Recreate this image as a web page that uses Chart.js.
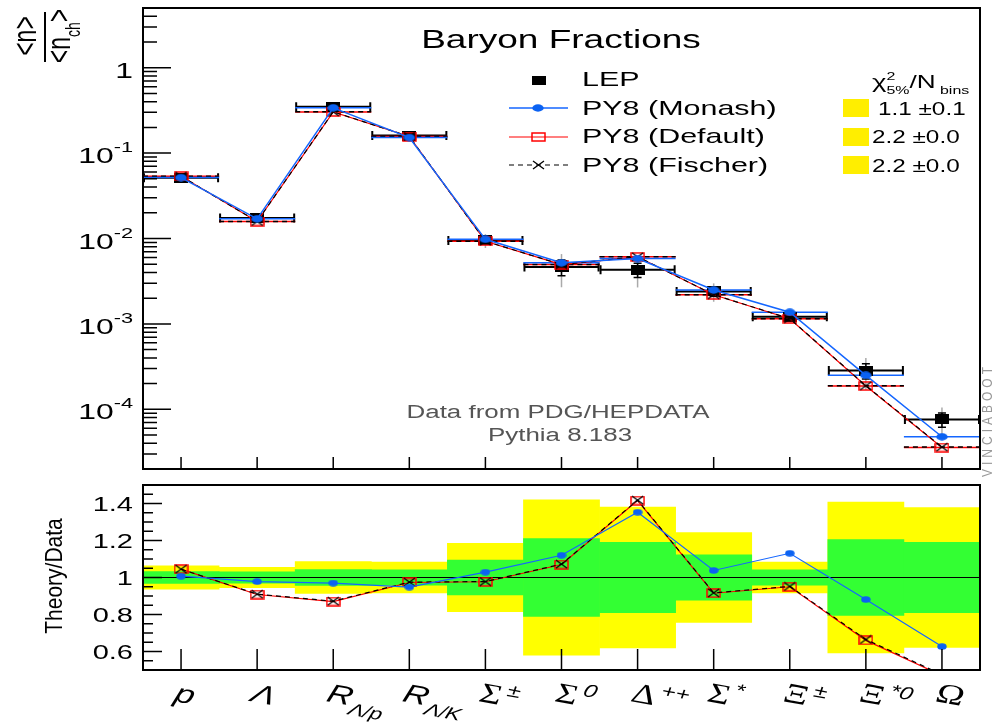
<!DOCTYPE html>
<html lang="en">
<head>
<meta charset="UTF-8">
<title>Baryon Fractions</title>
<script src="https://cdn.jsdelivr.net/npm/chart.js"></script>
<style>
  body { margin: 0; background: #fff; overflow: hidden; }
  #wrap { position: relative; width: 992px; height: 726px; }
  canvas { position: absolute; left: 0; }
  #top { top: 0; }
  #ratio { top: 477px; }
</style>
</head>
<body>
<div id="wrap">
  <canvas id="top" width="992" height="477"></canvas>
  <canvas id="ratio" width="992" height="249"></canvas>
</div>
<script>
// categories (drawn as main symbol + subscript + superscript)
const categories = ['p', 'Λ', 'R_Λ/p', 'R_Λ/K', 'Σ±', 'Σ0', 'Δ++', 'Σ*', 'Ξ±', 'Ξ*0', 'Ω'];
const labelMain = ['p', 'Λ', 'R', 'R', 'Σ', 'Σ', 'Δ', 'Σ', 'Ξ', 'Ξ', 'Ω'];
const labelSub  = ['', '', 'Λ/p', 'Λ/K', '', '', '', '', '', '', ''];
const labelSup  = ['', '', '', '', '±', '0', '++', '*', '±', '*0', ''];

// <n>/<n_ch> per species
const lep       = [0.0513, 0.0174, 0.349, 0.1606, 0.0095, 0.00463, 0.00431, 0.0024, 0.00121, 2.84e-4, 7.6e-5];
const monash    = [0.0517, 0.0170, 0.3385, 0.1522, 0.00978, 0.00519, 0.00583, 0.00249, 0.001369, 2.50e-4, 4.77e-5];
const pyDefault = [0.0536, 0.0158, 0.3036, 0.1563, 0.00928, 0.00495, 0.00610, 0.002196, 0.00115, 1.874e-4, 3.57e-5];
const fischer   = [0.0536, 0.01583, 0.3043, 0.1566, 0.00929, 0.00496, 0.00611, 0.0022, 0.001152, 1.889e-4, 3.61e-5];

// relative data uncertainty: 1 sigma (green) and 2 sigma (yellow)
const band1s = [0.032, 0.030, 0.043, 0.042, 0.094, 0.21, 0.19, 0.122, 0.042, 0.205, 0.19];
const band2s = [0.063, 0.055, 0.086, 0.083, 0.185, 0.42, 0.38, 0.243, 0.083, 0.408, 0.378];

// theory / data
const ratioMonash  = [1.007, 0.978, 0.970, 0.948, 1.029, 1.120, 1.353, 1.038, 1.131, 0.881, 0.627];
const ratioDefault = [1.045, 0.908, 0.870, 0.973, 0.977, 1.070, 1.416, 0.915, 0.950, 0.660, 0.470];
const ratioFischer = [1.045, 0.910, 0.872, 0.975, 0.978, 1.072, 1.418, 0.917, 0.952, 0.665, 0.475];

const legendNames = ['LEP', 'PY8 (Monash)', 'PY8 (Default)', 'PY8 (Fischer)'];
const chi2Values = ['1.1 ±0.1', '2.2 ±0.0', '2.2 ±0.0'];

const topMajor = [1, 0.1, 0.01, 0.001, 0.0001];
const topMajorExp = ['', '-1', '-2', '-3', '-4'];
const ratioMajor = [0.6, 0.8, 1, 1.2, 1.4];

const SANS = '"Liberation Sans", Arial, Helvetica, sans-serif';
const SERIF = '"Liberation Serif", "Times New Roman", serif';
const BLUE = '#1466ff';
const BLUE_DOT = '#0b62f2';
const RED = '#ff0000';
const K = 1.45; // text is drawn wide, like the rest of the plot

// small marker images (wider than tall)
function marker(w, h, paint) {
  const c = document.createElement('canvas');
  c.width = w; c.height = h;
  paint(c.getContext('2d'), w, h);
  return c;
}
const dot = (w, h) => marker(w, h, (g) => {
  g.fillStyle = BLUE_DOT;
  g.beginPath(); g.ellipse(w / 2, h / 2, w / 2 - 0.3, h / 2 - 0.3, 0, 0, Math.PI * 2); g.fill();
});
const openSquare = (w, h) => marker(w, h, (g) => {
  g.strokeStyle = RED; g.lineWidth = 1.5;
  g.strokeRect(1, 1, w - 2, h - 2);
});
const crossMark = (w, h) => marker(w, h, (g) => {
  g.strokeStyle = '#000'; g.lineWidth = 1.3;
  g.beginPath(); g.moveTo(2, 1); g.lineTo(w - 2, h - 1); g.moveTo(w - 2, 1); g.lineTo(2, h - 1); g.stroke();
});
const dataSquare = marker(14, 10, (g, w, h) => { g.fillStyle = '#000'; g.fillRect(0, 0, w, h); });

// run of text pieces, optionally stretched and rotated
function richText(ctx, pieces, x, y, opt = {}) {
  const k = opt.k || 1, rot = opt.rot || 0, align = opt.align || 'left';
  ctx.save();
  ctx.fillStyle = opt.color || '#000';
  ctx.textBaseline = 'alphabetic';
  ctx.textAlign = 'left';
  let total = 0;
  pieces.forEach(p => {
    ctx.font = p.font;
    p.w = p.adv !== undefined ? p.adv : ctx.measureText(p.t).width + (p.gap || 0);
    total += p.w;
  });
  ctx.translate(x, y);
  ctx.scale(k, 1);
  ctx.rotate(rot);
  let cx = align === 'right' ? -total : align === 'center' ? -total / 2 : 0;
  pieces.forEach(p => {
    ctx.font = p.font;
    ctx.fillText(p.t, cx + (p.dx || 0), p.dy || 0);
    cx += p.w;
  });
  ctx.restore();
}
const text = (ctx, t, x, y, font, opt = {}) => richText(ctx, [{ t, font }], x, y, opt);

// frame with inward ticks
function drawFrame(chart, cfg) {
  const { ctx, chartArea: a, scales: { x, y } } = chart;
  ctx.save();
  ctx.strokeStyle = '#000';
  ctx.lineWidth = 1.5;
  ctx.beginPath();
  categories.forEach((c, i) => {
    const px = x.getPixelForValue(i);
    ctx.moveTo(px, a.bottom); ctx.lineTo(px, a.bottom - cfg.xTick);
  });
  cfg.major.forEach(v => {
    const py = y.getPixelForValue(v);
    ctx.moveTo(a.left, py); ctx.lineTo(a.left + cfg.yMajor, py);
  });
  cfg.minor.forEach(v => {
    const py = y.getPixelForValue(v);
    ctx.moveTo(a.left, py); ctx.lineTo(a.left + cfg.yMinor, py);
  });
  ctx.stroke();
  ctx.lineWidth = 2;
  ctx.strokeRect(a.left, a.top, a.right - a.left, a.bottom - a.top);
  ctx.restore();
}

// minor ticks on the log axis
const topMinor = [];
for (let e = -5; e <= 0; e++) {
  for (let m = 2; m <= 9; m++) {
    const v = m * Math.pow(10, e);
    if (v >= 2e-5 && v <= 5) topMinor.push(v);
  }
}
const ratioMinor = [];
for (let s = 11; s < 30; s++) if (s % 4 !== 0) ratioMinor.push(s * 0.05);

// bin-wide horizontal lines and data error bars in the upper panel
const binBars = {
  id: 'binBars',
  beforeDatasetsDraw(chart) {
    const { ctx, scales: { x, y } } = chart;
    const half = (x.getPixelForValue(1) - x.getPixelForValue(0)) / 2;
    ctx.save();
    lep.forEach((v, i) => {
      const cx = x.getPixelForValue(i), cy = y.getPixelForValue(v);
      ctx.strokeStyle = '#aaa'; ctx.lineWidth = 1.5;
      ctx.beginPath();
      ctx.moveTo(cx, y.getPixelForValue(v * (1 + band2s[i])));
      ctx.lineTo(cx, y.getPixelForValue(v * (1 - band2s[i])));
      ctx.stroke();
      const t = y.getPixelForValue(v * (1 + band1s[i])), b = y.getPixelForValue(v * (1 - band1s[i]));
      ctx.strokeStyle = '#000'; ctx.lineWidth = 1.5;
      ctx.beginPath();
      ctx.moveTo(cx, t); ctx.lineTo(cx, b);
      ctx.moveTo(cx - 4, t); ctx.lineTo(cx + 4, t);
      ctx.moveTo(cx - 4, b); ctx.lineTo(cx + 4, b);
      ctx.stroke();
      ctx.lineWidth = 2;
      ctx.beginPath();
      ctx.moveTo(cx - half, cy); ctx.lineTo(cx + half, cy);
      ctx.moveTo(cx - half + 1, cy - 4.5); ctx.lineTo(cx - half + 1, cy + 4.5);
      ctx.moveTo(cx + half - 1, cy - 4.5); ctx.lineTo(cx + half - 1, cy + 4.5);
      ctx.stroke();
    });
    [[pyDefault, RED, []], [fischer, '#000', [5, 4]], [monash, BLUE, []]].forEach(([vals, col, dash]) => {
      ctx.strokeStyle = col; ctx.lineWidth = 1.5; ctx.setLineDash(dash);
      ctx.beginPath();
      vals.forEach((v, i) => {
        const cx = x.getPixelForValue(i), cy = y.getPixelForValue(v);
        ctx.moveTo(cx - half, cy); ctx.lineTo(cx + half, cy);
      });
      ctx.stroke();
    });
    ctx.restore();
  },
  afterDraw(chart) {
    const { ctx, scales: { y } } = chart;
    drawFrame(chart, { xTick: 12, yMajor: 28, yMinor: 14, major: topMajor, minor: topMinor });

    // y tick labels 1, 10^-1 ...
    topMajor.forEach((v, i) => {
      const py = y.getPixelForValue(v) + 10;
      const pieces = topMajorExp[i]
        ? [{ t: '10', font: `22px ${SANS}` }, { t: topMajorExp[i], font: `15px ${SANS}`, dy: -11 }]
        : [{ t: '1', font: `22px ${SANS}` }];
      richText(ctx, pieces, 133, py, { k: K, align: 'right' });
    });

    // y axis title <n>/<n_ch>
    ctx.save();
    ctx.strokeStyle = '#000'; ctx.lineWidth = 2;
    ctx.beginPath(); ctx.moveTo(45, 12); ctx.lineTo(45, 62); ctx.stroke();
    ctx.restore();
    richText(ctx, [{ t: '<n>', font: `23px ${SANS}` }], 36, 36, { k: K, rot: -Math.PI / 2, align: 'center' });
    richText(ctx, [
      { t: '<n', font: `23px ${SANS}` },
      { t: 'ch', font: `14px ${SANS}`, dy: 7 },
      { t: '>', font: `23px ${SANS}` }
    ], 70, 36, { k: K, rot: -Math.PI / 2, align: 'center' });

    // title and notes
    text(ctx, 'Baryon Fractions', 561, 48, `25px ${SANS}`, { k: 1.48, align: 'center' });
    text(ctx, 'Data from PDG/HEPDATA', 558, 418, `18px ${SANS}`, { k: 1.44, align: 'center', color: '#555' });
    text(ctx, 'Pythia 8.183', 560, 441, `18px ${SANS}`, { k: 1.44, align: 'center', color: '#555' });

    // legend
    ctx.save();
    ctx.fillStyle = '#000';
    ctx.fillRect(532, 76, 14, 9);
    ctx.lineWidth = 1.5;
    ctx.strokeStyle = BLUE;
    ctx.beginPath(); ctx.moveTo(509, 108); ctx.lineTo(568, 108); ctx.stroke();
    ctx.drawImage(dot(12, 8), 532, 104);
    ctx.strokeStyle = RED; ctx.lineWidth = 1.2;
    ctx.beginPath(); ctx.moveTo(509, 137); ctx.lineTo(568, 137); ctx.stroke();
    ctx.drawImage(openSquare(15, 10), 531, 132);
    ctx.strokeStyle = '#000'; ctx.setLineDash([5, 4]);
    ctx.beginPath(); ctx.moveTo(509, 165); ctx.lineTo(568, 165); ctx.stroke();
    ctx.setLineDash([]);
    ctx.drawImage(crossMark(15, 10), 531, 160);
    ctx.fillStyle = '#ffee00';
    [99, 128, 156].forEach(t => ctx.fillRect(843, t, 26, 18));
    ctx.restore();
    [86, 115, 143, 172].forEach((b, i) => text(ctx, legendNames[i], 582, b, `21px ${SANS}`, { k: K }));
    [[878, 115], [872, 143], [872, 172]].forEach(([lx, b], i) => text(ctx, chi2Values[i], lx, b, `18px ${SANS}`, { k: 1.35 }));
    richText(ctx, [
      { t: 'χ', font: `19px ${SANS}` },
      { t: '2', font: `11px ${SANS}`, dy: -8, adv: 0 },
      { t: '5%', font: `11px ${SANS}`, dy: 6 },
      { t: '/N', font: `18px ${SANS}` },
      { t: 'bins', font: `11px ${SANS}`, dy: 6, dx: 3 }
    ], 872, 88, { k: K });

    // signature along the right edge
    ctx.save();
    ctx.fillStyle = '#999';
    ctx.font = `12px ${SANS}`;
    ctx.translate(992, 477);
    ctx.scale(1.2, 1);
    ctx.rotate(-Math.PI / 2);
    let sx = 0;
    for (const ch of 'VINCIABOOT') { ctx.fillText(ch, sx, 0); sx += ctx.measureText(ch).width + 4; }
    ctx.restore();
  }
};

// ratio panel: line at unity over the bands, frame, labels
const ratioDecor = {
  id: 'ratioDecor',
  afterDatasetDraw(chart, args) {
    if (args.index !== 3) return;
    const { ctx, chartArea: a, scales: { y } } = chart;
    const py = y.getPixelForValue(1);
    ctx.save();
    ctx.strokeStyle = '#000'; ctx.lineWidth = 1.2;
    ctx.beginPath(); ctx.moveTo(a.left, py); ctx.lineTo(a.right, py); ctx.stroke();
    ctx.restore();
  },
  afterDraw(chart) {
    const { ctx, scales: { x, y } } = chart;
    drawFrame(chart, { xTick: 21, yMajor: 19, yMinor: 10, major: ratioMajor, minor: ratioMinor });
    ratioMajor.forEach(v => {
      const label = v === 1 ? '1' : v.toFixed(1);
      text(ctx, label, 133, y.getPixelForValue(v) + 7, `20px ${SANS}`, { k: K, align: 'right' });
    });
    text(ctx, 'Theory/Data', 62, 99, `21px ${SANS}`, { k: 1.1, rot: -Math.PI / 2, align: 'center' });

    // category labels, tilted
    categories.forEach((c, i) => {
      const main = labelMain[i];
      const serif = 'ΣΔΞΩ'.includes(main);
      const pieces = [{ t: main, font: serif ? `28px ${SERIF}` : `italic 26px ${SANS}` }];
      if (labelSub[i]) pieces.push({ t: labelSub[i], font: `italic 17px ${SANS}`, dy: 9 });
      if (labelSup[i]) pieces.push({ t: labelSup[i], font: `${labelSup[i].includes('0') ? 'italic ' : ''}18px ${SANS}`, dy: -10, dx: 3 });
      richText(ctx, pieces, x.getPixelForValue(i) - 8, 224, { k: 1.35, rot: 0.24 });
    });
  }
};

const noUi = {
  responsive: false,
  animation: false,
  events: [],
  devicePixelRatio: 1,
  plugins: { legend: { display: false }, tooltip: { enabled: false } }
};

new Chart(document.getElementById('top'), {
  type: 'line',
  data: {
    labels: categories,
    datasets: [
      { label: 'PY8 (Monash)', data: monash, borderColor: BLUE, borderWidth: 1.5, pointStyle: dot(12, 8), order: 1 },
      { label: 'PY8 (Fischer)', data: fischer, borderColor: '#000', borderWidth: 1.2, borderDash: [5, 4], pointStyle: crossMark(15, 10), order: 2 },
      { label: 'PY8 (Default)', data: pyDefault, borderColor: RED, borderWidth: 1.2, pointStyle: openSquare(15, 10), order: 3 },
      { label: 'LEP', data: lep, showLine: false, pointStyle: dataSquare, order: 4 }
    ]
  },
  options: {
    ...noUi,
    layout: { padding: { left: 143, right: 12, top: 8, bottom: 8 } },
    scales: {
      x: { type: 'category', offset: true, display: false },
      y: { type: 'logarithmic', min: 2e-5, max: 5, display: false }
    }
  },
  plugins: [binBars]
});

new Chart(document.getElementById('ratio'), {
  type: 'line',
  data: {
    labels: categories,
    datasets: [
      { label: 'PY8 (Monash)', data: ratioMonash, borderColor: BLUE, borderWidth: 1.2, pointStyle: dot(10, 7), order: 1 },
      { label: 'PY8 (Fischer)', data: ratioFischer, borderColor: '#000', borderWidth: 1.2, borderDash: [5, 4], pointStyle: crossMark(15, 10), order: 2 },
      { label: 'PY8 (Default)', data: ratioDefault, borderColor: RED, borderWidth: 1.2, pointStyle: openSquare(15, 10), order: 3 },
      { type: 'bar', label: '1 sigma', data: band1s.map(b => [1 - b, 1 + b]), backgroundColor: '#33ff33',
        grouped: false, barPercentage: 1, categoryPercentage: 1, borderWidth: 0, order: 4 },
      { type: 'bar', label: '2 sigma', data: band2s.map(b => [1 - b, 1 + b]), backgroundColor: '#ffff00',
        grouped: false, barPercentage: 1, categoryPercentage: 1, borderWidth: 0, order: 5 }
    ]
  },
  options: {
    ...noUi,
    layout: { padding: { left: 143, right: 12, top: 8, bottom: 56 } },
    scales: {
      x: { type: 'category', offset: true, display: false },
      y: { type: 'linear', min: 0.5, max: 1.5, display: false }
    }
  },
  plugins: [ratioDecor]
});
</script>
</body>
</html>
